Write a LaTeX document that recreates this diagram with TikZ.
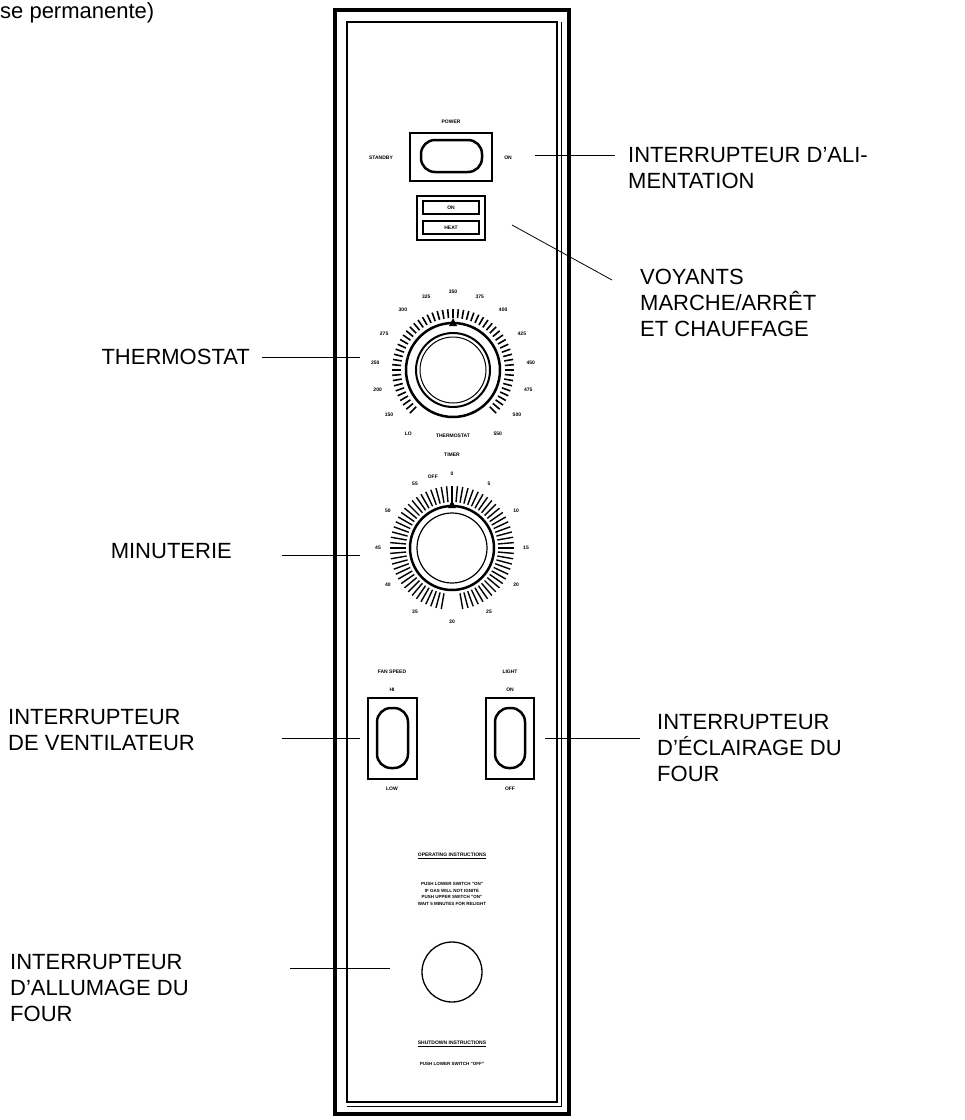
\documentclass[tikz,border=0pt]{standalone}
\usepackage{fontspec}
\setmainfont{Liberation Sans}
\usetikzlibrary{calc}
\begin{document}
\begin{tikzpicture}[x=1pt,y=-1pt,
  lbl/.style={font=\fontsize{22}{26}\selectfont,align=left,inner sep=0pt},
  tiny/.style={font=\fontsize{5}{6}\selectfont\bfseries,inner sep=0pt},
  lead/.style={line width=0.8pt}]
\useasboundingbox (0,0) rectangle (965,1120);
% panel
\draw[line width=4pt] (335,10) rectangle (569,1114);
\draw[line width=1.3pt] (347,22) rectangle (557,1102);
\draw[line width=1pt] (561,22) -- (561,1106) -- (347,1106);
% power switch
\draw[line width=2pt] (410,133) rectangle (492,181);
\draw[line width=2.5pt,rounded corners=14pt] (421,140) rectangle (482,172);
\node[tiny] (pw) at (451,122) {POWER};
\node[tiny] (sb) at (381,158) {STANDBY};
\node[tiny] (on) at (508,158) {ON};
% indicators
\draw[line width=1.8pt] (417,196) rectangle (485,240);
\draw[line width=1.3pt] (423,201) rectangle (479,214);
\draw[line width=1.3pt] (423,221) rectangle (479,234);
\node[tiny] at (451,207.5) {ON};
\node[tiny] at (451,227.5) {HEAT};
% thermostat
\coordinate (th) at (453,370);
\foreach \a in {-135,-130,...,135}{
  \draw[line width=1.6pt] (th) ++(-90+\a:52) -- ++(-90+\a:9);}
\draw[line width=2.5pt] (th) circle (47);
\draw[line width=2pt] (th) circle (37);
\draw[line width=1pt] (th) circle (33);
\fill (453,318) -- (449,326) -- (457,326) -- cycle;
\foreach \a/\t in {-145/LO,-125/150,-105/200,-85/250,-62/275,-40/300,-20/325,0/350,20/375,40/400,62/425,85/450,105/475,125/500,145/550}{
  \node[tiny] at ($(th)+(-90+\a:78)$) {\t};}
\node[tiny] (thl) at (453,436) {THERMOSTAT};
% timer
\coordinate (tm) at (452,548);
\node[tiny] (tml) at (452,455) {TIMER};
\foreach \a in {-170,-165,...,170}{
  \draw[line width=1.4pt] (tm) ++(-90+\a:46) -- ++(-90+\a:16);}
\draw[line width=2.5pt] (tm) circle (42);
\draw[line width=1.2pt] (tm) circle (35);
\fill (452,500) -- (448,508) -- (456,508) -- cycle;
\foreach \a/\t in {0/0,30/5,60/10,90/15,120/20,150/25,180/30,-150/35,-120/40,-90/45,-60/50,-30/55,-15/OFF}{
  \node[tiny] at ($(tm)+(-90+\a:74)$) {\t};}
% fan switch
\draw[line width=2pt] (368,698) rectangle (417,779);
\draw[line width=2.5pt,rounded corners=14pt] (377,708) rectangle (408,768);
\node[tiny] at (392,672) {FAN SPEED};
\node[tiny] at (392,690) {HI};
\node[tiny] at (392,789) {LOW};
% light switch
\draw[line width=2pt] (486,698) rectangle (534,779);
\draw[line width=2.5pt,rounded corners=14pt] (495,708) rectangle (525,768);
\node[tiny] at (510,672) {LIGHT};
\node[tiny] at (510,690) {ON};
\node[tiny] at (510,789) {OFF};
% instructions
\node[tiny] at (452,856) {\underline{OPERATING INSTRUCTIONS}};
\node[tiny,align=center,font=\fontsize{4.5}{6.5}\selectfont\bfseries] at (452,894) {PUSH LOWER SWITCH "ON"\\IF GAS WILL NOT IGNITE\\PUSH UPPER SWITCH "ON"\\WAIT 5 MINUTES FOR RELIGHT};
\node[draw,circle,line width=1.3pt,minimum size=60pt,inner sep=0pt] (ig) at (452,972) {};
\node[tiny] at (452,1044) {\underline{SHUTDOWN INSTRUCTIONS}};
\node[tiny,font=\fontsize{4.5}{6}\selectfont\bfseries] at (452,1064) {PUSH LOWER SWITCH "OFF"};
% callouts
\node[lbl,anchor=north west] at (0,2) {se permanente)};
\coordinate (c1) at (535,155); \coordinate (c1e) at (615,155);
\draw[lead] (c1) -- (c1e);
\node[lbl,anchor=west] (t1) at (628,168) {INTERRUPTEUR D’ALI-\\MENTATION};
\coordinate (c2) at (512,225); \coordinate (c2e) at (612,280);
\draw[lead] (c2) -- (c2e);
\node[lbl,anchor=west] (t2) at (640,303) {VOYANTS\\MARCHE/ARRÊT\\ET CHAUFFAGE};
\coordinate (c3) at (360,357); \coordinate (c3e) at (262,357);
\draw[lead] (c3) -- (c3e);
\node[lbl,anchor=east] (t3) at (250,357) {THERMOSTAT};
\coordinate (c4) at (360,555); \coordinate (c4e) at (282,555);
\draw[lead] (c4) -- (c4e);
\node[lbl,anchor=east] (t4) at (232,551) {MINUTERIE};
\coordinate (c5) at (360,738); \coordinate (c5e) at (282,738);
\draw[lead] (c5) -- (c5e);
\node[lbl,anchor=west] (t5) at (8,730) {INTERRUPTEUR\\DE VENTILATEUR};
\coordinate (c6) at (545,738); \coordinate (c6e) at (640,738);
\draw[lead] (c6) -- (c6e);
\node[lbl,anchor=west] (t6) at (657,748) {INTERRUPTEUR\\D’ÉCLAIRAGE DU\\FOUR};
\coordinate (c7) at (390,968); \coordinate (c7e) at (290,968);
\draw[lead] (c7) -- (c7e);
\node[lbl,anchor=west] (t7) at (10,988) {INTERRUPTEUR\\D’ALLUMAGE DU\\FOUR};
\end{tikzpicture}
\end{document}
